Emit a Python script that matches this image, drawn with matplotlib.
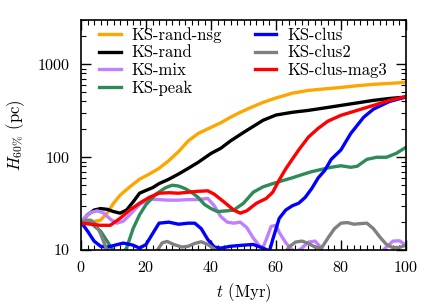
import numpy as np
import matplotlib
matplotlib.use("Agg")
import matplotlib.pyplot as plt
from matplotlib.ticker import MultipleLocator, FixedLocator, FixedFormatter, LogLocator, NullFormatter

plt.rcParams['font.family'] = ['cmr10', 'DejaVu Serif']
plt.rcParams['mathtext.fontset'] = 'cm'
plt.rcParams['axes.formatter.use_mathtext'] = True

# KS-rand-nsg
t_nsg = [0, 3, 6, 8, 10, 12, 15, 18, 21, 24, 27, 30, 33, 36, 40, 43, 46, 49, 52, 56,
         60, 65, 70, 75, 80, 85, 90, 95, 100]
h_nsg = [20, 20, 21, 25, 32, 39, 48, 58, 66, 76, 92, 115, 150, 180, 210, 235, 270, 305, 340, 390,
         435, 490, 525, 545, 565, 590, 610, 625, 640]

# KS-rand
t_rand = [0, 2, 4, 6, 8, 10, 12, 14, 16, 18, 20, 22, 24, 27, 30, 33, 36, 40, 43, 46,
          50, 53, 56, 60, 65, 70, 75, 80, 85, 90, 95, 100]
h_rand = [20, 24, 27, 28, 27.5, 26, 25, 27, 33, 41, 44, 47, 52, 58, 66, 76, 88, 110, 125, 150,
          185, 215, 250, 285, 305, 320, 340, 362, 385, 410, 430, 445]

# KS-mix
t_mix = [0, 1.5, 3, 5, 7, 9, 11, 13, 15, 18, 21, 24, 27, 30, 33, 36, 39, 41, 43, 45,
         47, 49, 51, 53, 55, 56, 57, 58.5, 60, 61, 63, 64.5, 66, 68, 70, 72, 73.5, 75, 78,
         85, 91, 94, 96, 98, 100]
h_mix = [20, 23, 25.5, 26.5, 25, 21.5, 19.5, 20.5, 24, 31, 35.5, 35, 34.5, 34.5, 35, 35, 36, 30, 23, 20,
         19.5, 20, 17.5, 13.5, 11, 10.7, 13, 18, 18.5, 15.5, 12, 10.5, 9.5, 10.5, 12.2, 12.5, 11, 9, 7,
         7, 8.5, 10.8, 12.5, 12.6, 11.3]

# KS-peak
t_peak = [0, 3, 6, 8, 9, 10, 11, 13, 14, 16, 18, 20, 23, 26, 28, 30, 32, 34, 36, 38,
          40, 42, 45, 47, 50, 53, 56, 59, 62, 65, 68, 71, 74, 77, 80, 83, 85, 88, 91, 94,
          97, 100]
h_peak = [20, 19.5, 16, 12.5, 11, 9.8, 9, 9.5, 10.5, 17, 24, 31, 40, 47, 50, 49, 46, 42, 37, 31,
          28, 26, 26.5, 27, 32, 42, 48, 52, 56, 60, 65, 70, 74, 78, 81, 78, 80, 95, 100, 100,
          110, 128]

# KS-clus
t_clus = [0, 2, 4, 6, 8, 10, 13, 16, 18, 20, 22, 24, 27, 30, 33, 35, 37, 39, 41, 43,
          46, 50, 53, 56, 58, 59, 61, 63, 65, 67, 69, 71, 73, 75, 77, 80, 83, 87, 90, 95,
          100]
h_clus = [20, 16, 12.5, 11, 10.7, 11.2, 11.9, 11.3, 10.5, 11.5, 15, 19.5, 20, 19, 19.5, 19.5, 17, 13, 10.8, 10.5,
          11, 11.3, 11.5, 10.5, 9.8, 13, 22, 27, 30, 32, 37, 46, 60, 72, 95, 120, 180, 270, 330, 400,
          445]

# KS-clus2
t_clus2 = [0, 1.5, 3, 4.5, 6, 7.5, 8.5, 10, 20, 22, 23.5, 25, 26.5, 28.5, 31, 33, 35, 37, 39, 41,
           42.5, 45, 60, 62.5, 64, 66, 68, 70, 72, 74, 76, 78, 80, 82, 84, 86, 88, 90, 92, 94,
           96, 98, 100]
h_clus2 = [20, 21, 21, 19, 15, 11, 9, 7, 7, 8.5, 10, 12, 12.4, 11.5, 10.8, 11, 11.8, 12.3, 11.5, 10.3,
           9, 7, 7, 9, 10.8, 12.2, 12.5, 11.8, 10.8, 10.5, 13.5, 17, 19.5, 19.8, 19, 19.3, 19.5, 17, 13.8, 11.5,
           10.6, 10.7, 11.3]

# KS-clus-mag3
t_mag3 = [0, 3, 6, 9, 12, 15, 18, 21, 24, 27, 30, 33, 36, 39, 41, 44, 47, 49, 51, 54,
          57, 59, 61, 63, 65, 67, 70, 73, 76, 80, 85, 90, 95, 100]
h_mag3 = [19.5, 19, 18.5, 18.5, 22, 27, 32, 37, 41, 41.5, 41, 42, 43, 43.5, 40, 33, 27, 25, 26.5, 32,
          36, 42, 57, 75, 95, 120, 165, 205, 245, 283, 320, 362, 410, 450]

series = [
    (t_nsg, h_nsg, 'KS-rand-nsg', '#FFA500'),
    (t_rand, h_rand, 'KS-rand', 'black'),
    (t_mix, h_mix, 'KS-mix', '#BF80FF'),
    (t_peak, h_peak, 'KS-peak', '#2E8B57'),
    (t_clus, h_clus, 'KS-clus', '#0000FF'),
    (t_clus2, h_clus2, 'KS-clus2', '#808080'),
    (t_mag3, h_mag3, 'KS-clus-mag3', '#FF0000'),
]

fig = plt.figure(figsize=(4.36, 3.05), dpi=100)
ax = fig.add_axes([0.186, 0.180, 0.745, 0.754])

for t, h, lab, c in series:
    ax.plot(t, h, color=c, lw=2.4, label=lab)

ax.set_yscale('log')
ax.set_xlim(0, 100)
ax.set_ylim(10, 3000)

ax.xaxis.set_major_locator(MultipleLocator(20))
ax.xaxis.set_minor_locator(MultipleLocator(2))
ax.yaxis.set_major_locator(FixedLocator([10, 100, 1000]))
ax.yaxis.set_major_formatter(FixedFormatter(['10', '100', '1000']))
ax.yaxis.set_minor_locator(LogLocator(base=10, subs=np.arange(2, 10)))
ax.yaxis.set_minor_formatter(NullFormatter())

ax.tick_params(which='both', direction='in', top=True, right=True, labelsize=11.5)
ax.tick_params(which='major', length=7, width=1)
ax.tick_params(which='minor', length=3.5, width=0.8)
ax.tick_params(axis='x', which='major', pad=7)
ax.tick_params(axis='y', which='major', pad=8)
for s in ax.spines.values():
    s.set_linewidth(1.2)

ax.set_xlabel(r'$t$ (Myr)', fontsize=12, labelpad=5)
ax.set_ylabel(r'$H_{60\%}$ (pc)', fontsize=12, labelpad=8)

ax.legend(loc='upper left', bbox_to_anchor=(0.035, 1.0), ncol=2, frameon=False,
          fontsize=12, handlelength=1.3, handletextpad=0.65, labelspacing=0.15,
          columnspacing=1.95, borderaxespad=0.0)

fig.savefig('out.png', dpi=100)
